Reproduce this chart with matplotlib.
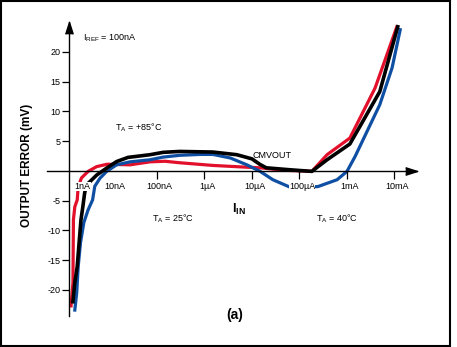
import matplotlib
matplotlib.use("Agg")
import matplotlib.pyplot as plt
import matplotlib.transforms as mtransforms
from matplotlib.patches import Rectangle

plt.rcParams['font.family'] = ['Liberation Sans', 'DejaVu Sans']
plt.rcParams['mathtext.fontset'] = 'custom'
plt.rcParams['mathtext.rm'] = 'Liberation Sans'
plt.rcParams['mathtext.it'] = 'Liberation Sans'
plt.rcParams['mathtext.bf'] = 'Liberation Sans:bold'

# ---- data (input current in A, output error in mV) ----
red_current = [1.55e-9, 1.70e-9, 1.72e-9, 1.74e-9, 1.86e-9, 2.09e-9, 2.19e-9, 2.57e-9,
               3.55e-9, 5.37e-9, 8.9e-9, 2.7e-8, 7.1e-8, 1.48e-7, 3.0e-7, 1.5e-6,
               7.8e-6, 1.48e-5, 4.5e-5, 1.82e-4, 3.8e-4, 1.15e-3, 3.9e-3, 1.12e-2]
red_error = [-22.7, -18.8, -13.3, -8.2, -6.05, -4.9, -2.7, -1.2,
             -0.1, 0.7, 1.1, 1.0, 1.5, 1.6, 1.35, 0.9,
             0.6, 0.5, 0.1, -0.1, 2.7, 5.5, 13.9, 24.2]

black_current = [1.70e-9, 1.86e-9, 2.09e-9, 2.29e-9, 2.51e-9, 2.75e-9, 3.0e-9, 3.3e-9,
                 3.9e-9, 5.4e-9, 8.7e-9, 1.41e-8, 2.45e-8, 7.1e-8, 1.35e-7, 3.0e-7,
                 1.5e-6, 4.8e-6, 1.0e-5, 1.45e-5, 2.0e-5, 6.3e-5, 1.82e-4, 3.8e-4,
                 1.15e-3, 4.9e-3, 1.17e-2]
black_error = [-22.0, -18.8, -16.1, -12.1, -8.2, -6.0, -3.7, -2.35,
               -1.8, -0.7, 0.45, 1.55, 2.25, 2.7, 3.1, 3.25,
               3.15, 2.7, 2.0, 1.1, 0.5, 0.17, -0.1, 1.85,
               4.5, 13.3, 24.2]

blue_current = [1.86e-9, 2.04e-9, 2.19e-9, 2.45e-9, 2.88e-9, 3.55e-9, 4.4e-9, 4.9e-9,
                6.3e-9, 8.7e-9, 1.41e-8, 2.7e-8, 7.1e-8, 1.35e-7, 3.0e-7, 8.1e-7,
                1.5e-6, 3.5e-6, 7.8e-6, 1.48e-5, 2.75e-5, 6.3e-5, 1.66e-4, 2.45e-4,
                6.2e-4, 1.0e-3, 1.48e-3, 4.9e-3, 8.9e-3, 1.32e-2]
blue_error = [-23.4, -20.5, -16.1, -12.1, -8.7, -6.55, -4.9, -2.6,
              -1.25, -0.1, 1.0, 1.5, 1.85, 2.3, 2.6, 2.75,
              2.75, 2.15, 1.0, -0.1, -1.5, -2.75, -2.7, -2.65,
              -1.5, -0.1, 2.4, 11.1, 17.3, 23.7]

y_ticks = [-20, -15, -10, -5, 5, 10, 15, 20]
y_tick_labels = ['-20', '-15', '-10', '-5', '5', '10', '15', '20']
x_ticks = [2.4e-9, 1.17e-8, 1e-7, 1e-6, 1e-5, 1e-4, 1e-3, 1e-2]
x_tick_labels = ['1nA', '10nA', '100nA', '1\u00b5A', '10\u00b5A', '100\u00b5A', '1mA', '10mA']
x_unmarked = ['1nA', '10nA']

W, H = 457, 347
fig = plt.figure(figsize=(W / 100, H / 100), dpi=100)
fig.patch.set_facecolor('white')

def fx(px):
    return px / W

def fy(py):
    return 1 - py / H

ax = fig.add_axes([fx(47), fy(316), fx(417) - fx(47), fy(22) - fy(316)])
ax.set_xscale('log')
ax.set_xlim(10 ** -9.316, 10 ** -1.526)
ax.set_ylim(-24.4, 25.0)
ax.set_axisbelow(False)

ax.plot(red_current, red_error, color='#e3102b', lw=2.3, solid_joinstyle='round', zorder=2)
ax.plot(blue_current, blue_error, color='#0f4fa3', lw=2.3, solid_joinstyle='round', zorder=2.1)
ax.plot(black_current, black_error, color='black', lw=2.6, solid_joinstyle='round', zorder=2.2)

yaxis_x = 10 ** -8.853
for s in ['top', 'right']:
    ax.spines[s].set_visible(False)
ax.spines['left'].set_position(('data', yaxis_x))
ax.spines['bottom'].set_position(('data', 0))
ax.spines['left'].set_linewidth(1.0)
ax.spines['bottom'].set_linewidth(1.0)

ax.set_yticks(y_ticks)
ax.set_yticklabels(y_tick_labels)
ax.tick_params(axis='y', direction='out', length=5, width=0.9, pad=1, labelsize=6.5)
ax.set_xticks(x_ticks)
ax.set_xticklabels(x_tick_labels)
ax.xaxis.set_minor_locator(matplotlib.ticker.NullLocator())
ax.tick_params(axis='x', direction='out', length=5.5, width=0.9, pad=2.8, labelsize=6.5)
offset = mtransforms.ScaledTranslation(2.5 / 100, 0, fig.dpi_scale_trans)
for tick, lab in zip(ax.xaxis.get_major_ticks(), x_tick_labels):
    tick.label1.set_transform(tick.label1.get_transform() + offset)
    tick.label1.set_bbox(dict(facecolor='white', edgecolor='none', pad=0.0))
    if lab in x_unmarked:
        tick.tick1line.set_visible(False)

# arrow heads
arrow_right = [(-1, -0.32), (0, 0), (-1, 0.32)]
arrow_up = [(-0.32, -1), (0, 0), (0.32, -1)]
ax.plot([1], [0], marker=arrow_right, markersize=17, color='black',
        transform=ax.get_yaxis_transform(), clip_on=False, zorder=3)
ax.plot([yaxis_x], [1], marker=arrow_up, markersize=17, color='black',
        transform=ax.get_xaxis_transform(), clip_on=False, zorder=3)

# texts
fs = 6.5
fig.text(fx(83), fy(38), r'I$_{\mathrm{REF}}$ = 100nA', fontsize=fs, ha='left', va='center')
fig.text(fx(115), fy(128), r'T$_{\mathrm{A}}$ = +85' + '\u00b0C', fontsize=fs, ha='left', va='center')
fig.text(fx(253), fy(156), 'CMVOUT', fontsize=fs, ha='left', va='center')
fig.text(fx(152), fy(219), r'T$_{\mathrm{A}}$ = 25' + '\u00b0C', fontsize=fs, ha='left', va='center')
fig.text(fx(316), fy(219), r'T$_{\mathrm{A}}$ = 40' + '\u00b0C', fontsize=fs, ha='left', va='center')
fig.text(fx(232), fy(209), r'I$_{\mathbf{IN}}$', fontsize=9, fontweight='bold', ha='left', va='center')
fig.text(fx(226), fy(315), '(a)', fontsize=10, fontweight='bold', ha='left', va='center')
fig.text(fx(27), fy(165), 'OUTPUT ERROR (mV)', fontsize=8.5, fontweight='bold',
         rotation=90, ha='center', va='center')

# frame
fig.patches.append(Rectangle((fx(1), fy(346)), fx(450) - fx(1), fy(1) - fy(346),
                             transform=fig.transFigure, fill=False, edgecolor='black',
                             linewidth=1.5, zorder=10))

fig.savefig('out.png', dpi=100, facecolor='white')
